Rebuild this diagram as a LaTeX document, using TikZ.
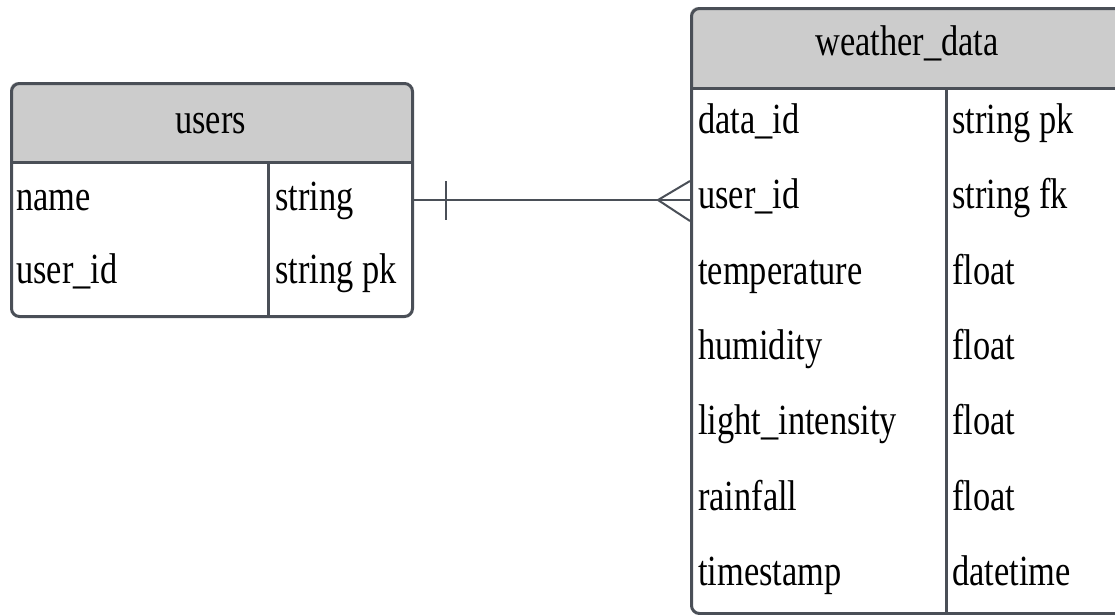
\documentclass[tikz,border=0pt]{standalone}
\usepackage{fontspec}
\setmainfont[FakeStretch=0.8]{Liberation Serif}
\usetikzlibrary{positioning}

\definecolor{erline}{HTML}{4A4F57}
\definecolor{erhead}{HTML}{CCCCCC}

\tikzset{
  tblframe/.style={draw=erline, line width=3pt, rounded corners=8pt, anchor=north west, inner sep=0pt},
  tblrule/.style={draw=erline, line width=3pt},
  tbltitle/.style={anchor=base, inner sep=0pt},
  tblfield/.style={anchor=base west, inner sep=0pt},
  erlink/.style={draw=erline, line width=2pt}
}

\begin{document}
\begin{tikzpicture}[x=1pt, y=-1pt, font=\fontsize{43}{50}\selectfont]
\useasboundingbox (0,0) rectangle (1115,614);
\clip (0,0) rectangle (1115,614);

% users table
\begin{scope}
  \clip[rounded corners=8pt] (10,82) rectangle (411,315);
  \fill[erhead] (10,82) rectangle (411,162);
\end{scope}
\node[tblframe, minimum width=401pt, minimum height=233pt] (users) at (10,82) {};
\draw[tblrule] (users.west |- 0,162) -- (users.east |- 0,162);
\draw[tblrule] (268,162) -- (268,315);
\node[tbltitle] (users-title) at (210.5,133) {users};
\node[tblfield] (users-name) at (16,210) {name};
\node[tblfield] (users-name-t) at (275,210) {string};
\node[tblfield] (users-uid) at (16,283) {user\_id};
\node[tblfield] (users-uid-t) at (275,283) {string pk};

% weather_data table
\begin{scope}
  \clip[rounded corners=8pt] (690,7) rectangle (1124,612);
  \fill[erhead] (690,7) rectangle (1124,88);
\end{scope}
\node[tblframe, minimum width=434pt, minimum height=605pt] (weather) at (690,7) {};
\draw[tblrule] (weather.west |- 0,88) -- (weather.east |- 0,88);
\draw[tblrule] (946,88) -- (946,612);
\node[tbltitle] (weather-title) at (907,55) {weather\_data};
\node[tblfield] (weather-did) at (698,133) {data\_id};
\node[tblfield] (weather-did-t) at (952,133) {string pk};
\node[tblfield] (weather-uid) at (698,208) {user\_id};
\node[tblfield] (weather-uid-t) at (952,208) {string fk};
\node[tblfield] (weather-temp) at (698,284) {temperature};
\node[tblfield] (weather-temp-t) at (952,284) {float};
\node[tblfield] (weather-hum) at (698,359) {humidity};
\node[tblfield] (weather-hum-t) at (952,359) {float};
\node[tblfield] (weather-light) at (698,434) {light\_intensity};
\node[tblfield] (weather-light-t) at (952,434) {float};
\node[tblfield] (weather-rain) at (698,510) {rainfall};
\node[tblfield] (weather-rain-t) at (952,510) {float};
\node[tblfield] (weather-time) at (698,585) {timestamp};
\node[tblfield] (weather-time-t) at (952,585) {datetime};

% one-to-many link
\coordinate (one) at (users.east |- 0,200);
\coordinate (many) at (weather.west |- 0,200);
\draw[erlink] (one) -- (many);
\draw[erlink] ([xshift=32pt]one) ++(0,-19) -- ++(0,39);
\draw[erlink] ([xshift=-32pt]many) -- ++(32,-19);
\draw[erlink] ([xshift=-32pt]many) -- ++(32,21);
\end{tikzpicture}
\end{document}
